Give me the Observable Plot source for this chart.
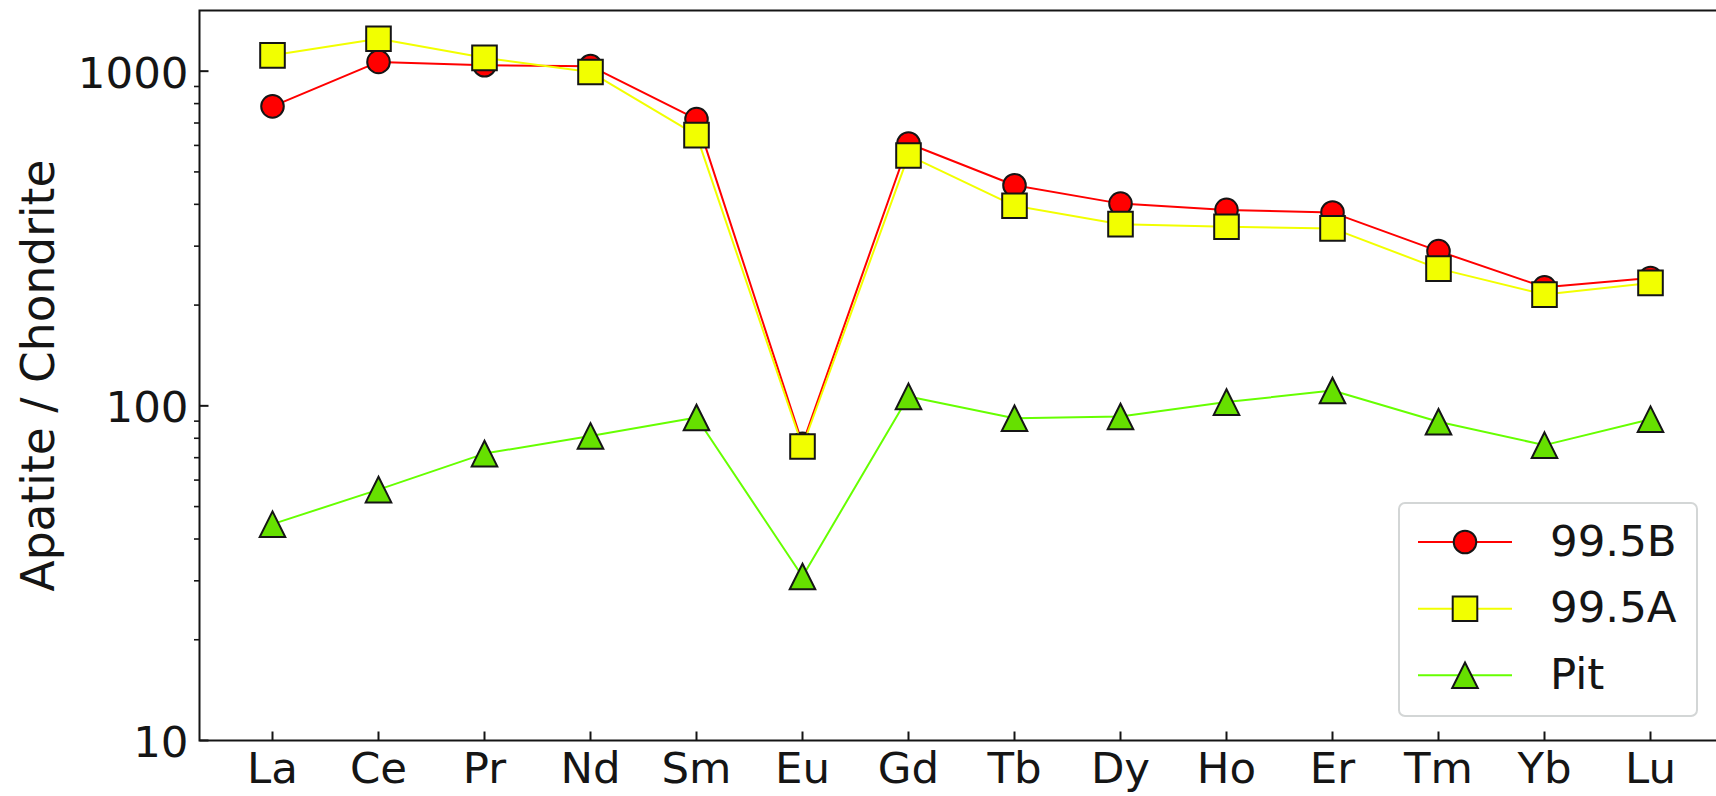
<!DOCTYPE html>
<html>
<head>
<meta charset="utf-8">
<script src="https://cdn.jsdelivr.net/npm/d3@7"></script>
<script src="https://cdn.jsdelivr.net/npm/@observablehq/plot@0.6"></script>
<style>
  html, body { margin: 0; padding: 0; background: #fff; overflow: hidden; }
  #chart { position: relative; width: 1716px; height: 796px; }
  #legend {
    position: absolute; left: 1398px; top: 502px; width: 300px; height: 215px;
    box-sizing: border-box; border: 2px solid #d3d6d6; border-radius: 7px;
    background: rgba(255,255,255,0.85);
  }
  #legend svg { position: absolute; left: -2px; top: -2px; }
</style>
</head>
<body>
<div id="chart"><div id="legend"></div></div>
<script>
// Chondrite-normalised REE patterns of apatite
const elements = ["La", "Ce", "Pr", "Nd", "Sm", "Eu", "Gd", "Tb", "Dy", "Ho", "Er", "Tm", "Yb", "Lu"];
const sample995B = [785, 1066, 1042, 1035, 719, 77, 608, 456, 402, 385, 378, 290, 226, 241];
const sample995A = [1115, 1250, 1096, 994, 644, 75.6, 560, 396, 349, 343, 339, 257, 215, 233];
const samplePit = [44.3, 56.2, 72.0, 81.3, 92.3, 30.9, 106.7, 91.8, 92.9, 102.6, 111.1, 89.6, 76.3, 91.2];

const seriesNames = ["99.5B", "99.5A", "Pit"];
const seriesValues = [sample995B, sample995A, samplePit];
const lineColors = ["#ff0000", "#f2ff00", "#66ff00"];
const fillColors = ["#ff0000", "#f2ff00", "#66e000"];

const majorTicks = [10, 100, 1000];
const minorTicks = [20, 30, 40, 50, 60, 70, 80, 90, 200, 300, 400, 500, 600, 700, 800, 900];

// marker shapes (size = π r², so r is the half-width)
const half = size => Math.sqrt(size / Math.PI);
const squareSymbol = {draw(ctx, size) { const h = half(size); ctx.moveTo(-h, -h); ctx.lineTo(h, -h); ctx.lineTo(h, h); ctx.lineTo(-h, h); ctx.closePath(); }};
const triangleSymbol = {draw(ctx, size) { const h = half(size); ctx.moveTo(0, -h); ctx.lineTo(h, h); ctx.lineTo(-h, h); ctx.closePath(); }};
const circleSymbol = d3.symbolCircle;
const symbols = [circleSymbol, squareSymbol, triangleSymbol];
const markerR = [11.3, 12.3, 12.8];

// tick marks: major ticks point into the frame, minor ticks point outward
const tickInY = {draw(ctx, size) { ctx.moveTo(0, 0); ctx.lineTo(half(size), 0); }};
const tickOutY = {draw(ctx, size) { ctx.moveTo(0, 0); ctx.lineTo(-half(size), 0); }};
const tickInX = {draw(ctx, size) { ctx.moveTo(0, 0); ctx.lineTo(0, -half(size)); }};

const rows = seriesNames.flatMap((name, s) =>
  elements.map((el, i) => ({series: name, element: el, value: seriesValues[s][i]})));

const font = "DejaVu Sans, sans-serif";
const ink = "#151515";

const seriesMarks = seriesNames.flatMap((name, s) => {
  const d = rows.filter(r => r.series === name);
  return [
    Plot.line(d, {x: "element", y: "value", stroke: lineColors[s], strokeWidth: 2}),
    Plot.dot(d, {x: "element", y: "value", symbol: symbols[s], r: markerR[s],
      fill: fillColors[s], stroke: ink, strokeWidth: 2, strokeLinejoin: "miter"})
  ];
});

const chart = Plot.plot({
  width: 1716,
  height: 796,
  marginLeft: 199,
  marginRight: -4,
  marginTop: 10,
  marginBottom: 56,
  style: {fontFamily: font, fontSize: "43.5px", color: ink, background: "#fff"},
  x: {type: "point", domain: elements, range: [269.5, 1651.5], padding: 0, label: null},
  y: {type: "log", domain: [10, 1518], label: null},
  marks: [
    ...seriesMarks,
    Plot.frame({stroke: ink, strokeWidth: 2}),
    Plot.dot(majorTicks, {y: d => d, frameAnchor: "left", symbol: tickInY, r: 9, fill: "none", stroke: ink, strokeWidth: 2}),
    Plot.dot(minorTicks, {y: d => d, frameAnchor: "left", symbol: tickOutY, r: 5.5, fill: "none", stroke: ink, strokeWidth: 1.6}),
    Plot.dot(elements, {x: d => d, frameAnchor: "bottom", symbol: tickInX, r: 9, fill: "none", stroke: ink, strokeWidth: 2}),
    Plot.axisY({ticks: majorTicks, tickSize: 0, tickPadding: 11, dy: 2.5, tickFormat: d3.format("d"), label: null, fontSize: 43.5}),
    Plot.axisX({tickSize: 0, tickPadding: 12, label: null, fontSize: 43.5}),
    Plot.text(["Apatite / Chondrite"], {text: d => d, frameAnchor: "left", dx: -160, rotate: -90,
      textAnchor: "middle", lineAnchor: "middle", fontSize: 45.5, fill: ink})
  ]
});
document.getElementById("chart").prepend(chart);

// legend: line + marker swatch with the series name
const lg = d3.select("#legend").append("svg").attr("width", 300).attr("height", 215)
  .style("font-family", font);
const rowY = [40, 106.7, 173.3];
seriesNames.forEach((name, s) => {
  const g = lg.append("g").attr("transform", `translate(0,${rowY[s]})`);
  g.append("line").attr("x1", 20).attr("x2", 114).attr("stroke", lineColors[s]).attr("stroke-width", 2);
  const p = d3.path();
  symbols[s].draw(p, Math.PI * markerR[s] * markerR[s]);
  g.append("path").attr("d", p.toString()).attr("transform", "translate(67,0)")
    .attr("fill", fillColors[s]).attr("stroke", ink).attr("stroke-width", 2).attr("stroke-linejoin", "miter");
  g.append("text").attr("x", 152).attr("y", 13.5).attr("font-size", 43.5).attr("fill", ink).text(name);
});
</script>
</body>
</html>
